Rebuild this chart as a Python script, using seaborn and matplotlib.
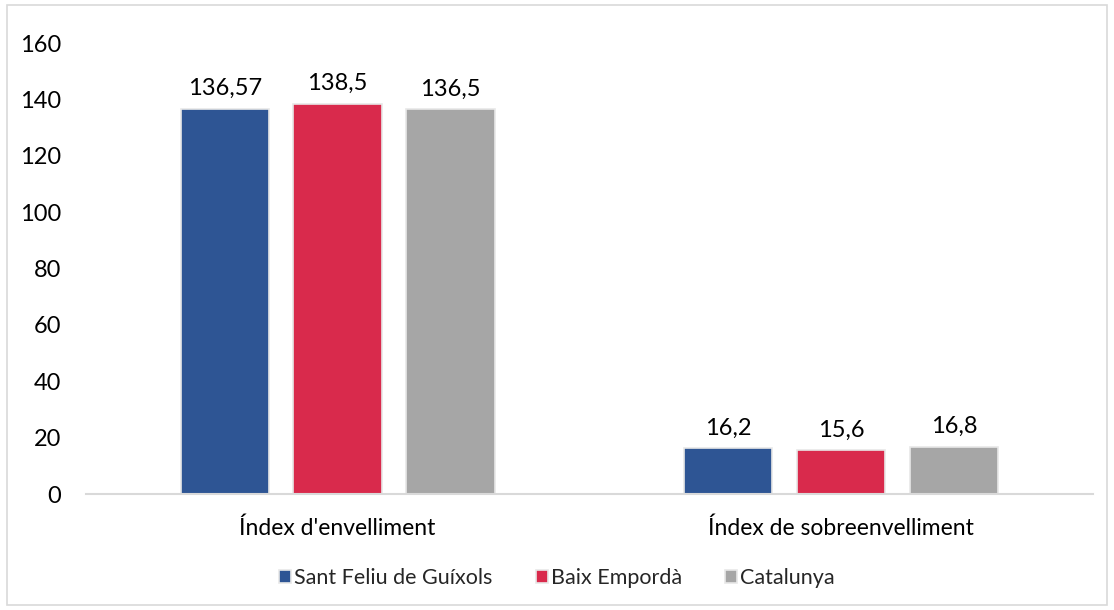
import numpy as np
import pandas as pd
import seaborn as sns
import matplotlib.pyplot as plt
from matplotlib.patches import Rectangle

categories = ["Índex d'envelliment", "Índex de sobreenvelliment"]
series = ["Sant Feliu de Guíxols", "Baix Empordà", "Catalunya"]
sant_feliu = [136.57, 16.2]
baix_emporda = [138.5, 15.6]
catalunya = [136.5, 16.8]
labels = {
    "Sant Feliu de Guíxols": ["136,57", "16,2"],
    "Baix Empordà": ["138,5", "15,6"],
    "Catalunya": ["136,5", "16,8"],
}
colors = ["#2E5594", "#D92A4C", "#A6A6A6"]

df = pd.DataFrame({
    "categoria": categories * 3,
    "zona": [s for s in series for _ in categories],
    "valor": sant_feliu + baix_emporda + catalunya,
})

sns.set_theme(style="white")
plt.rcParams["font.family"] = ["Lato", "DejaVu Sans"]

fig = plt.figure(figsize=(11.14, 6.10), dpi=100)
ax = fig.add_axes([0.077, 0.19, 0.904, 0.7395])

sns.barplot(data=df, x="categoria", y="valor", hue="zona", hue_order=series,
            palette=colors, saturation=1, width=0.673, gap=0.22,
            edgecolor="#E8E8E8", linewidth=1.2, ax=ax)

for cont, name in zip(ax.containers, series):
    ax.bar_label(cont, labels=labels[name], padding=7, fontsize=17, color="black")

ax.set_ylim(0, 160)
ax.set_yticks(np.arange(0, 161, 20))
ax.tick_params(axis="both", length=0, colors="black")
ax.tick_params(axis="y", labelsize=17, pad=18)
ax.tick_params(axis="x", labelsize=16.5, pad=17)
ax.set_xlabel("")
ax.set_ylabel("")
for s in ["top", "right", "left"]:
    ax.spines[s].set_visible(False)
ax.spines["bottom"].set_color("#D9D9D9")
ax.spines["bottom"].set_linewidth(1.5)

handles, lbls = ax.get_legend_handles_labels()
ax.legend(handles, lbls, loc="center", bbox_to_anchor=(0.5, 0.052),
          bbox_transform=fig.transFigure, ncol=3, frameon=False,
          fontsize=15.5, handlelength=0.55, handleheight=0.55,
          handletextpad=0.15, columnspacing=2.0)

fig.patches.append(Rectangle((0.006, 0.008), 0.988, 0.984, transform=fig.transFigure,
                             fill=False, edgecolor="#D9D9D9", linewidth=1.2))

fig.savefig("out.png", dpi=100)
